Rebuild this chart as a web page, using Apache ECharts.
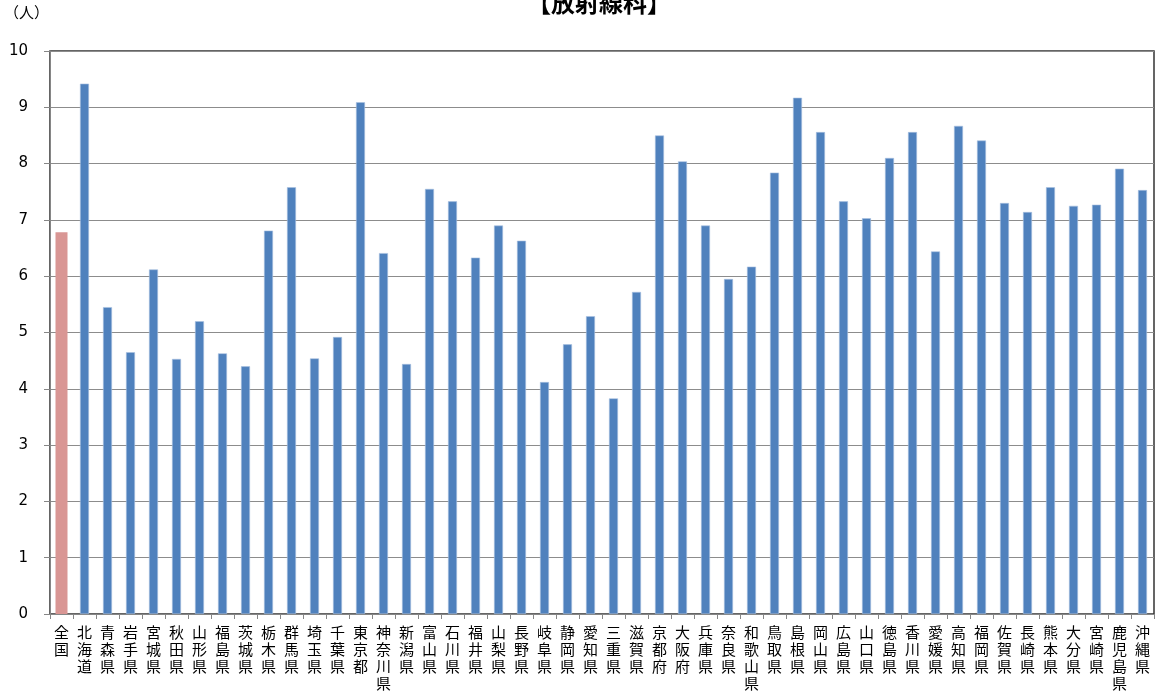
<!DOCTYPE html>
<html>
<head>
<meta charset="utf-8">
<script src="https://cdn.jsdelivr.net/npm/echarts@6/dist/echarts.min.js"></script>
<style>html,body{margin:0;padding:0;background:#fff;}#chart{width:1158px;height:696px;}</style>
</head>
<body>
<div id="chart"></div>
<script>
const categories = ['全国','北海道','青森県','岩手県','宮城県','秋田県','山形県','福島県','茨城県','栃木県','群馬県','埼玉県','千葉県','東京都','神奈川県','新潟県','富山県','石川県','福井県','山梨県','長野県','岐阜県','静岡県','愛知県','三重県','滋賀県','京都府','大阪府','兵庫県','奈良県','和歌山県','鳥取県','島根県','岡山県','広島県','山口県','徳島県','香川県','愛媛県','高知県','福岡県','佐賀県','長崎県','熊本県','大分県','宮崎県','鹿児島県','沖縄県'];
const nationalValue = [6.78];
const prefectureValues = [9.42,5.45,4.65,6.12,4.53,5.20,4.63,4.40,6.81,7.58,4.54,4.92,9.09,6.41,4.44,7.55,7.33,6.33,6.90,6.63,4.12,4.79,5.29,3.83,5.72,8.50,8.04,6.90,5.95,6.17,7.84,9.17,8.56,7.33,7.03,8.10,8.56,6.44,8.67,8.41,7.30,7.14,7.58,7.25,7.27,7.91,7.53];
const yTicks = [0,1,2,3,4,5,6,7,8,9,10];

const nationalData = categories.map((c, i) => i === 0 ? nationalValue[0] : null);
const prefData = categories.map((c, i) => i === 0 ? null : prefectureValues[i - 1]);

const chart = echarts.init(document.getElementById('chart'));
const labelFont = '"Noto Sans CJK JP", sans-serif';
const baseX = {
  type: 'category',
  data: categories,
  axisLine: {lineStyle: {color: '#868686', width: 1}},
  axisTick: {show: true, length: 5, lineStyle: {color: '#868686'}},
  axisLabel: {
    interval: 0, margin: 10, color: '#000', fontSize: 15, lineHeight: 17,
    fontFamily: labelFont,
    formatter: v => v.split('').join('\n')
  }
};
chart.setOption({
  animation: false,
  title: {
    text: '【放射線科】', left: 594, textAlign: 'center', top: -14,
    textStyle: {fontSize: 24, fontWeight: 'bold', color: '#000', fontFamily: labelFont}
  },
  graphic: [{type: 'text', left: 4, top: 5, style: {text: '（人）', fill: '#000', fontSize: 15, fontFamily: '"Noto Sans CJK JP"'}}],
  grid: {left: 50, right: 4, top: 51, bottom: 82, show: true, borderColor: '#333', borderWidth: 1.5, containLabel: false},
  xAxis: [
    baseX,
    Object.assign({}, baseX, {show: false})
  ],
  yAxis: {
    type: 'value', min: 0, max: 10, interval: 1,
    axisLine: {show: true, lineStyle: {color: '#868686'}},
    axisTick: {show: true, length: 6, lineStyle: {color: '#868686'}},
    splitLine: {lineStyle: {color: '#8c8c8c', width: 1}},
    axisLabel: {color: '#000', fontSize: 15, margin: 22, fontFamily: '"DejaVu Sans", Verdana, sans-serif',
      formatter: v => yTicks.includes(v) ? String(v) : ''}
  },
  series: [
    {type: 'bar', xAxisIndex: 0, data: prefData, barWidth: 9,
     itemStyle: {color: '#4F81BD', borderColor: '#a9c1e0', borderWidth: 0.6}},
    {type: 'bar', xAxisIndex: 1, data: nationalData, barWidth: 12,
     itemStyle: {color: '#D99694'}}
  ]
});
</script>
</body>
</html>
